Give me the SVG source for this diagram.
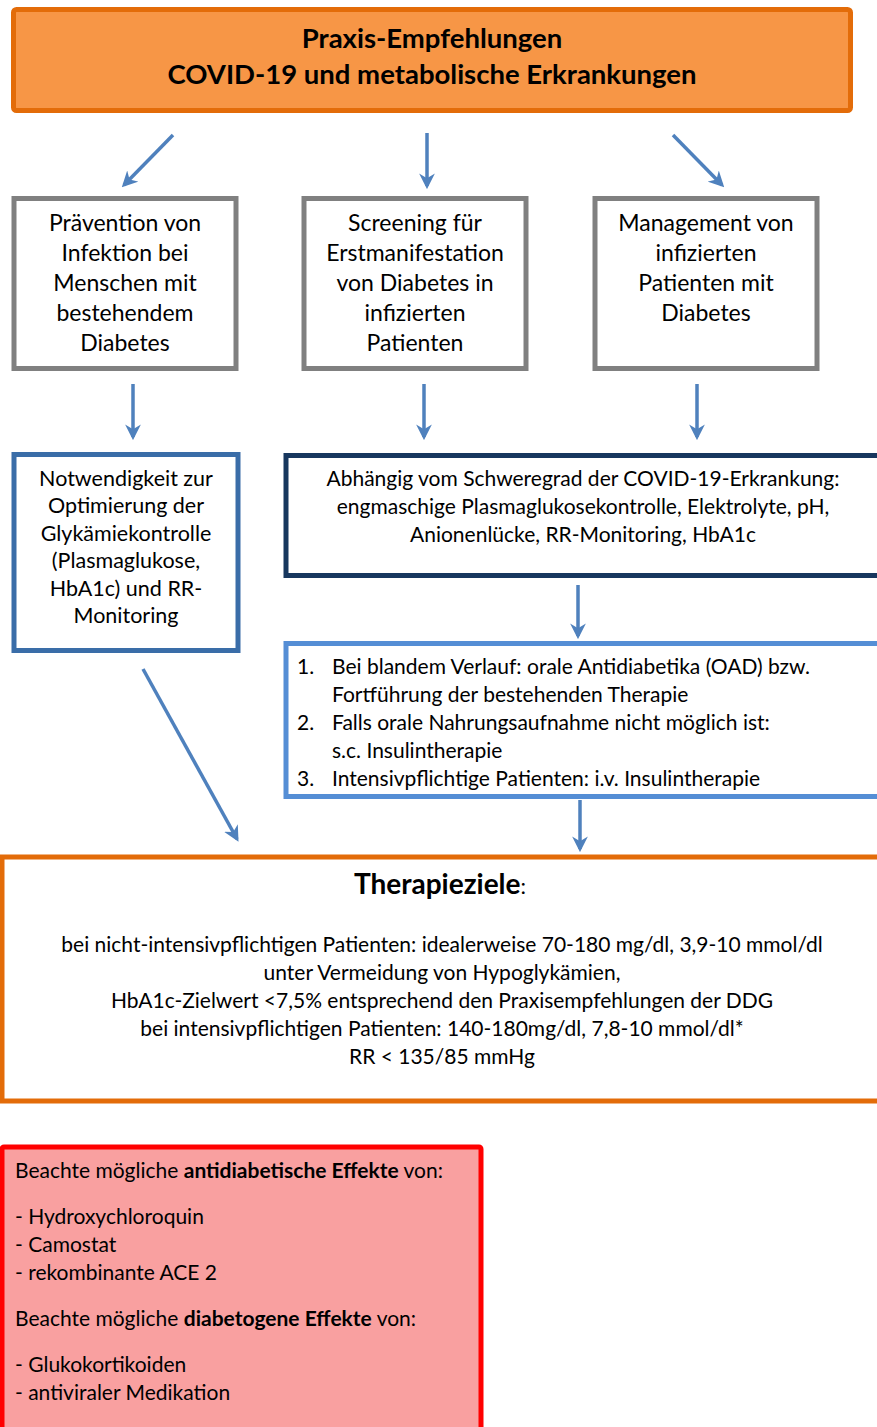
<svg xmlns="http://www.w3.org/2000/svg" width="877" height="1427" viewBox="0 0 877 1427">
<style>
text{font-family:Lato,"Open Sans","Liberation Sans",sans-serif;fill:#000}
.t{font-size:23px;text-anchor:middle}
.m{font-size:21.5px;text-anchor:middle}
.s{font-size:21px}
.c{text-anchor:middle}
.b{font-weight:bold}
.conn{stroke:#4F81BD;stroke-width:3.5;fill:none;marker-end:url(#ah)}
</style>
<defs>
<marker id="ah" viewBox="0 0 10 10" refX="8" refY="5" markerWidth="4.5" markerHeight="4.5" orient="auto" markerUnits="strokeWidth">
<path d="M0,0 L10,5 L0,10 L3,5 Z" fill="#4F81BD"/>
</marker>
</defs>
<rect width="877" height="1427" fill="#fff"/>

<g id="title">
<rect x="13.5" y="9.5" width="837" height="101" rx="3" fill="#F79646" stroke="#E36C09" stroke-width="5"/>
<text class="t b" x="432" y="48" style="font-size:27.5px">Praxis-Empfehlungen</text>
<text class="t b" x="432" y="84" style="font-size:27.5px">COVID-19 und metabolische Erkrankungen</text>
</g>

<g id="praevention">
<rect x="14" y="198.5" width="222" height="170" fill="#fff" stroke="#808080" stroke-width="5"/>
<text class="t" x="125" y="231">Prävention von</text>
<text class="t" x="125" y="261">Infektion bei</text>
<text class="t" x="125" y="291">Menschen mit</text>
<text class="t" x="125" y="321">bestehendem</text>
<text class="t" x="125" y="351">Diabetes</text>
</g>

<g id="screening">
<rect x="304" y="198.5" width="222" height="170" fill="#fff" stroke="#808080" stroke-width="5"/>
<text class="t" x="415" y="231">Screening für</text>
<text class="t" x="415" y="261">Erstmanifestation</text>
<text class="t" x="415" y="291">von Diabetes in</text>
<text class="t" x="415" y="321">infizierten</text>
<text class="t" x="415" y="351">Patienten</text>
</g>

<g id="management">
<rect x="595" y="198.5" width="222" height="170" fill="#fff" stroke="#808080" stroke-width="5"/>
<text class="t" x="706" y="231">Management von</text>
<text class="t" x="706" y="261">infizierten</text>
<text class="t" x="706" y="291">Patienten mit</text>
<text class="t" x="706" y="321">Diabetes</text>
</g>

<g id="notwendigkeit">
<rect x="14" y="454.5" width="224" height="196" fill="#fff" stroke="#3A6DA8" stroke-width="5"/>
<text class="m" x="126" y="486">Notwendigkeit zur</text>
<text class="m" x="126" y="513">Optimierung der</text>
<text class="m" x="126" y="541">Glykämiekontrolle</text>
<text class="m" x="126" y="568">(Plasmaglukose,</text>
<text class="m" x="126" y="596">HbA1c) und RR-</text>
<text class="m" x="126" y="623">Monitoring</text>
</g>

<g id="abhaengig">
<rect x="286" y="455.5" width="600" height="120" fill="#fff" stroke="#17375E" stroke-width="5"/>
<text class="c s" x="583" y="486">Abhängig vom Schweregrad der COVID-19-Erkrankung:</text>
<text class="c s" x="583" y="514">engmaschige Plasmaglukosekontrolle, Elektrolyte, pH,</text>
<text class="c s" x="583" y="542">Anionenlücke, RR-Monitoring, HbA1c</text>
</g>

<g id="therapie">
<rect x="286" y="643.5" width="600" height="153" fill="#fff" stroke="#558ED5" stroke-width="5"/>
<text class="s" x="297" y="674">1.</text>
<text class="s" x="332" y="674">Bei blandem Verlauf: orale Antidiabetika (OAD) bzw.</text>
<text class="s" x="332" y="702">Fortführung der bestehenden Therapie</text>
<text class="s" x="297" y="730">2.</text>
<text class="s" x="332" y="730">Falls orale Nahrungsaufnahme nicht möglich ist:</text>
<text class="s" x="332" y="758">s.c. Insulintherapie</text>
<text class="s" x="297" y="786">3.</text>
<text class="s" x="332" y="786">Intensivpflichtige Patienten: i.v. Insulintherapie</text>
</g>

<g id="therapieziele">
<rect x="2" y="857" width="890" height="244" fill="#fff" stroke="#E36C09" stroke-width="5"/>
<text class="c" x="440" y="894" style="font-size:28px"><tspan class="b">Therapieziele</tspan><tspan style="font-size:22px">:</tspan></text>
<text class="c s" x="442" y="952">bei nicht-intensivpflichtigen Patienten: idealerweise 70-180 mg/dl, 3,9-10 mmol/dl</text>
<text class="c s" x="442" y="980">unter Vermeidung von Hypoglykämien,</text>
<text class="c s" x="442" y="1008">HbA1c-Zielwert &lt;7,5% entsprechend den Praxisempfehlungen der DDG</text>
<text class="c s" x="442" y="1036">bei intensivpflichtigen Patienten: 140-180mg/dl, 7,8-10 mmol/dl*</text>
<text class="c s" x="442" y="1064">RR &lt; 135/85 mmHg</text>
</g>

<g id="hinweis">
<rect x="2" y="1147" width="479" height="290" rx="2" fill="#F9A0A0" stroke="#FF0000" stroke-width="5"/>
<text class="s" x="15" y="1178">Beachte mögliche <tspan class="b">antidiabetische Effekte</tspan> von:</text>
<text class="s" x="15" y="1224">- Hydroxychloroquin</text>
<text class="s" x="15" y="1252">- Camostat</text>
<text class="s" x="15" y="1280">- rekombinante ACE 2</text>
<text class="s" x="15" y="1326">Beachte mögliche <tspan class="b">diabetogene Effekte</tspan> von:</text>
<text class="s" x="15" y="1372">- Glukokortikoiden</text>
<text class="s" x="15" y="1400">- antiviraler Medikation</text>
</g>

<g id="connectors">
<line class="conn" x1="173" y1="135" x2="124" y2="185"/>
<line class="conn" x1="427" y1="133" x2="427" y2="186"/>
<line class="conn" x1="673" y1="135" x2="722" y2="185"/>
<line class="conn" x1="133" y1="384" x2="133" y2="437"/>
<line class="conn" x1="424" y1="384" x2="424" y2="437"/>
<line class="conn" x1="697" y1="384" x2="697" y2="437"/>
<line class="conn" x1="578" y1="585" x2="578" y2="636"/>
<line class="conn" x1="143" y1="669" x2="237" y2="839"/>
<line class="conn" x1="580" y1="800" x2="580" y2="849"/>
</g>
</svg>
